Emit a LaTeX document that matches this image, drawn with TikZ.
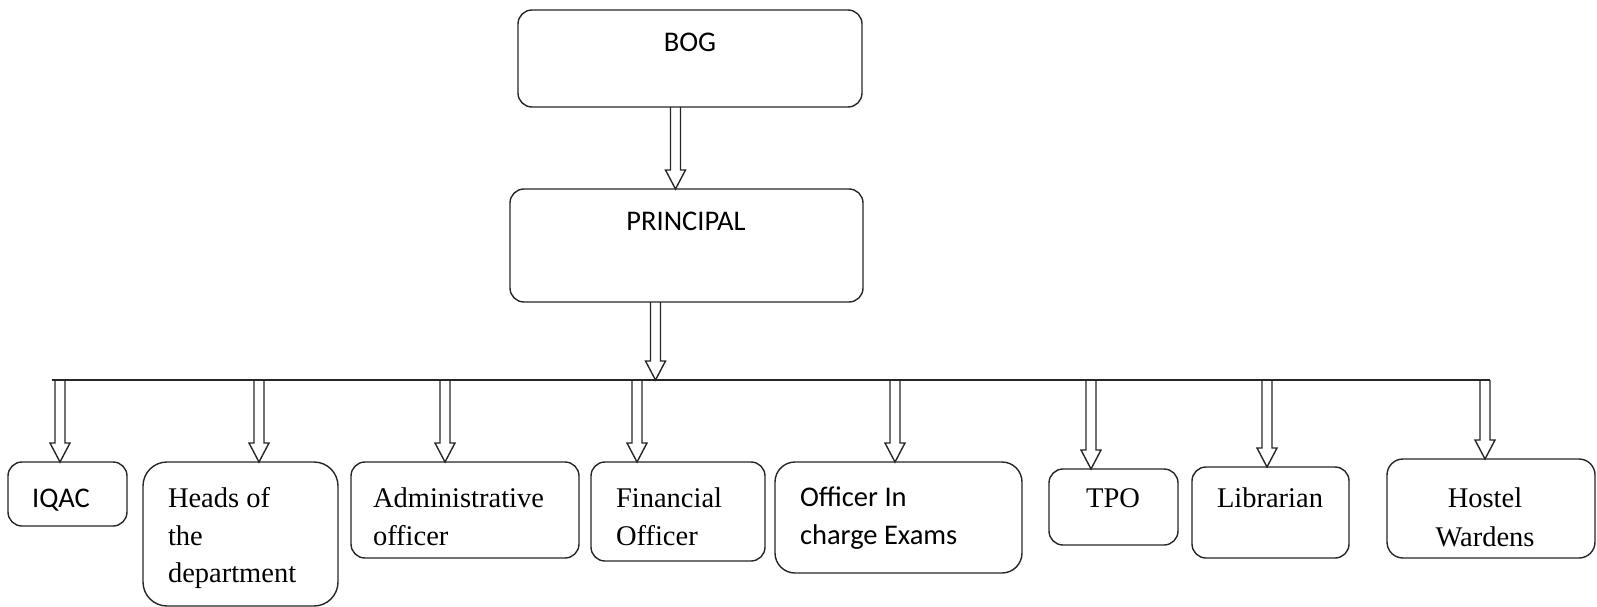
\documentclass[tikz,border=0pt]{standalone}
\usepackage{fontspec}
\setmainfont{Liberation Serif}
\newfontfamily\calfont{Carlito}
\usetikzlibrary{calc}
\begin{document}
\begin{tikzpicture}[x=1pt,y=-1pt,
  every node/.style={inner sep=0pt, outer sep=0pt},
  ln/.style={line width=1.4pt, draw=black!85},
  box/.style={draw=black!85, line width=1.4pt, rounded corners=#1, anchor=north west},
  box/.default=14pt,
  st/.style={font=\fontsize{28.5}{34}\selectfont, anchor=base west},
  ss/.style={font=\calfont\fontsize{28.5}{34}\selectfont, anchor=base west},
  blockarrow/.style={ln, to path={
    let \p1=(\tikztostart), \p2=(\tikztotarget) in
    (\x1-5pt,\y1) -- (\x1-5pt,\y2+19pt) -- (\x1-10pt,\y2+19pt) -- (\x2,\y2)
    -- (\x1+10pt,\y2+19pt) -- (\x1+5pt,\y2+19pt) -- (\x1+5pt,\y1)}}
]
\useasboundingbox (0,0) rectangle (1597,607);

% top boxes
\node[box, minimum width=344pt, minimum height=97pt] (bog) at (518,10) {};
\node[ss, anchor=base] (bogt) at (690,52) {BOG};
\node[box, minimum width=353pt, minimum height=113pt] (pri) at (510,189) {};
\node[ss, anchor=base] (prit) at (686,230) {PRINCIPAL};

% bottom boxes
\node[box, minimum width=119pt, minimum height=64pt] (iqac) at (8,462) {};
\node[ss, anchor=base] (iqact) at (61,507) {IQAC};

\node[box=24pt, minimum width=195pt, minimum height=144pt] (hod) at (143,462) {};
\node[st] (hod1) at (168,507) {Heads of};
\node[st] (hod2) at (168,545) {the};
\node[st] (hod3) at (168,582) {department};

\node[box, minimum width=228pt, minimum height=96pt] (adm) at (351,462) {};
\node[st] (adm1) at (373,507) {Administrative};
\node[st] (adm2) at (373,545) {officer};

\node[box, minimum width=174pt, minimum height=99pt] (fin) at (591,462) {};
\node[st] (fin1) at (616,507) {Financial};
\node[st] (fin2) at (616,545) {Officer};

\node[box=20pt, minimum width=247pt, minimum height=111pt] (off) at (775,462) {};
\node[ss] (off1) at (800,506) {Officer In};
\node[ss] (off2) at (800,544) {charge Exams};

\node[box, minimum width=129pt, minimum height=76pt] (tpo) at (1049,469) {};
\node[st, anchor=base] (tpot) at (1113,507) {TPO};

\node[box, minimum width=157pt, minimum height=91pt] (lib) at (1192,467) {};
\node[st, anchor=base] (libt) at (1270,507) {Librarian};

\node[box=16pt, minimum width=208pt, minimum height=99pt] (hos) at (1387,459) {};
\node[st, anchor=base] (hos1) at (1485,507) {Hostel};
\node[st, anchor=base] (hos2) at (1485,546) {Wardens};

% connectors
\coordinate (a1) at (675.5,0);
\draw[blockarrow] (bog.south -| a1) to (pri.north -| a1);

\coordinate (pj) at (655.5,380);
\draw[blockarrow] (pri.south -| pj) to (pj);

\coordinate (busL) at (52,380);
\coordinate (busR) at (1490,380);
\draw[ln] (busL) -- (busR);

\coordinate (dI) at (60,380);
\coordinate (dH) at (259,380);
\coordinate (dA) at (445,380);
\coordinate (dF) at (637,380);
\coordinate (dO) at (895,380);
\coordinate (dT) at (1091,380);
\coordinate (dL) at (1267,380);
\coordinate (dW) at (1485,380);
\draw[blockarrow] (dI) to (iqac.north -| dI);
\draw[blockarrow] (dH) to (hod.north -| dH);
\draw[blockarrow] (dA) to (adm.north -| dA);
\draw[blockarrow] (dF) to (fin.north -| dF);
\draw[blockarrow] (dO) to (off.north -| dO);
\draw[blockarrow] (dT) to (tpo.north -| dT);
\draw[blockarrow] (dL) to (lib.north -| dL);
\draw[blockarrow] (dW) to (hos.north -| dW);
\end{tikzpicture}
\end{document}
